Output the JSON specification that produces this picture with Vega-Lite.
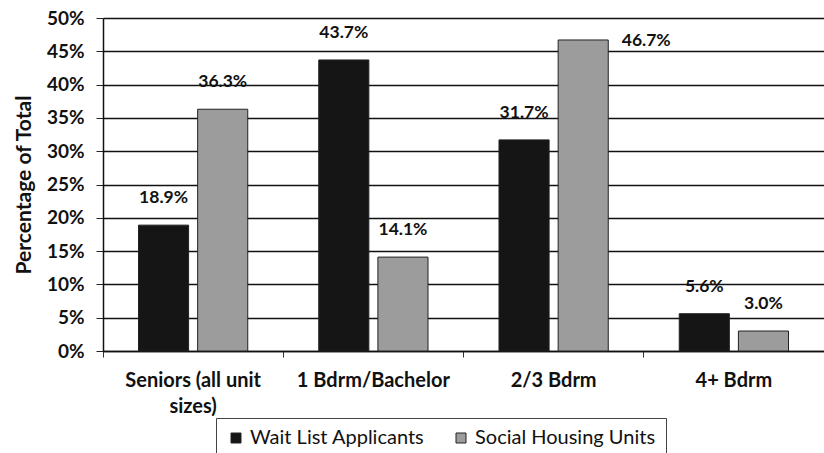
{
  "$schema": "https://vega.github.io/schema/vega-lite/v6.json",
  "width": 721,
  "height": 333,
  "autosize": {"type": "none"},
  "padding": {"left": 103, "top": 18, "right": 0, "bottom": 102},
  "background": "white",
  "config": {
    "font": "Lato",
    "view": {"stroke": null}
  },
  "data": {
    "values": [
      {"category": "Seniors (all unit sizes)", "series": "Wait List Applicants", "value": 0.189},
      {"category": "Seniors (all unit sizes)", "series": "Social Housing Units", "value": 0.363},
      {"category": "1 Bdrm/Bachelor", "series": "Wait List Applicants", "value": 0.437},
      {"category": "1 Bdrm/Bachelor", "series": "Social Housing Units", "value": 0.141},
      {"category": "2/3 Bdrm", "series": "Wait List Applicants", "value": 0.317},
      {"category": "2/3 Bdrm", "series": "Social Housing Units", "value": 0.467},
      {"category": "4+ Bdrm", "series": "Wait List Applicants", "value": 0.056},
      {"category": "4+ Bdrm", "series": "Social Housing Units", "value": 0.030}
    ]
  },
  "encoding": {
    "x": {
      "field": "category",
      "type": "nominal",
      "sort": null,
      "scale": {"paddingInner": 0, "paddingOuter": 0},
      "axis": {
        "title": null,
        "labelAngle": 0,
        "labelFont": "Lato",
        "labelFontSize": 20,
        "labelFontWeight": "bold",
        "labelColor": "#111",
        "labelPadding": 13,
        "labelLineHeight": 26,
        "labelLimit": 0,
        "labelExpr": "datum.value == 'Seniors (all unit sizes)' ? ['Seniors (all unit', 'sizes)'] : datum.value",
        "bandPosition": 0,
        "tickSize": 6,
        "tickColor": "#333",
        "domainColor": "#111",
        "domainWidth": 1.5,
        "grid": false
      }
    },
    "xOffset": {
      "field": "series",
      "type": "nominal",
      "sort": ["Wait List Applicants", "Social Housing Units"],
      "scale": {"paddingInner": 0.153, "paddingOuter": 0.6}
    },
    "y": {
      "field": "value",
      "type": "quantitative",
      "scale": {"domain": [0, 0.5], "nice": false},
      "axis": {
        "title": "Percentage of Total",
        "titleFont": "Lato",
        "titleFontSize": 21,
        "titleFontWeight": "bold",
        "titleColor": "#111",
        "titlePadding": 12,
        "format": ".0%",
        "values": [0, 0.05, 0.1, 0.15, 0.2, 0.25, 0.3, 0.35, 0.4, 0.45, 0.5],
        "labelFont": "Lato",
        "labelFontSize": 19,
        "labelFontWeight": "bold",
        "labelColor": "#111",
        "labelPadding": 12,
        "tickSize": 7,
        "tickColor": "#222",
        "domainColor": "#111",
        "domainWidth": 1.5,
        "gridColor": "#111",
        "gridWidth": 1.4
      }
    }
  },
  "layer": [
    {
      "mark": {"type": "bar", "stroke": "#222", "strokeWidth": 1},
      "encoding": {
        "color": {
          "field": "series",
          "type": "nominal",
          "sort": ["Wait List Applicants", "Social Housing Units"],
          "scale": {"domain": ["Wait List Applicants", "Social Housing Units"], "range": ["#151515", "#9c9c9c"]},
          "legend": {
            "title": null,
            "orient": "none",
            "legendX": 113,
            "legendY": 400,
            "direction": "horizontal",
            "strokeColor": "#444",
            "padding": 10,
            "symbolType": "square",
            "symbolSize": 100,
            "symbolStrokeColor": "#222",
            "symbolStrokeWidth": 1,
            "labelFont": "Lato",
            "labelFontSize": 20,
            "labelColor": "#111",
            "labelLimit": 0,
            "columnPadding": 26,
            "labelOffset": 4
          }
        }
      }
    },
    {
      "transform": [{"filter": "datum.value < 0.46"}],
      "mark": {"type": "text", "dy": -27, "font": "Lato", "fontSize": 17.5, "fontWeight": "bold", "color": "#111"},
      "encoding": {
        "text": {"field": "value", "type": "quantitative", "format": ".1%"}
      }
    },
    {
      "transform": [{"filter": "datum.value >= 0.46"}],
      "mark": {"type": "text", "dx": 63, "dy": 1, "font": "Lato", "fontSize": 17.5, "fontWeight": "bold", "color": "#111"},
      "encoding": {
        "text": {"field": "value", "type": "quantitative", "format": ".1%"}
      }
    }
  ]
}
